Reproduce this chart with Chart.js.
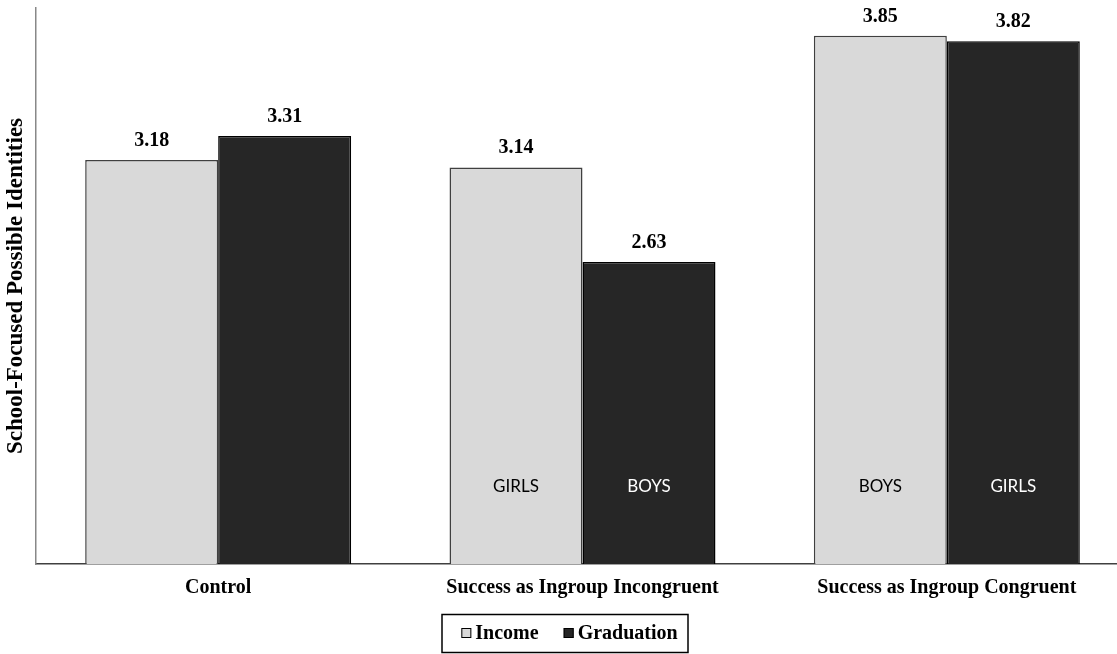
<!DOCTYPE html>
<html>
<head>
<meta charset="utf-8">
<script src="https://cdn.jsdelivr.net/npm/chart.js@4.4.1/dist/chart.umd.min.js"></script>
<style>
  html, body { margin: 0; padding: 0; background: #fff; overflow: hidden; }
  #wrap { width: 1130px; height: 654px; }
</style>
</head>
<body>
<div id="wrap"><canvas id="chart" width="1130" height="654"></canvas></div>
<script>
// Conditions on the x axis
const categories = ['Control', 'Success as Ingroup Incongruent', 'Success as Ingroup Congruent'];

// Mean school-focused possible identities per condition
const incomeValues = [3.18, 3.14, 3.85];
const graduationValues = [3.31, 2.63, 3.82];

// Group labels written inside the bars
const incomeInner = ['', 'GIRLS', 'BOYS'];
const graduationInner = ['', 'BOYS', 'GIRLS'];

const seriesNames = ['Income', 'Graduation'];
const yTitle = 'School-Focused Possible Identities';

const SERIF = '"Liberation Serif", "Times New Roman", serif';
const SERIF_BOLD = 'bold 20px ' + SERIF;

// Value labels above each bar and group labels inside the bars
const barTextPlugin = {
  id: 'barText',
  afterDatasetsDraw(chart) {
    const ctx = chart.ctx;
    const inner = [incomeInner, graduationInner];
    const innerColors = ['#000000', '#ffffff'];
    const floor = chart.chartArea.bottom;
    ctx.save();
    chart.data.datasets.forEach((ds, di) => {
      const meta = chart.getDatasetMeta(di);
      meta.data.forEach((bar, i) => {
        ctx.font = SERIF_BOLD;
        ctx.fillStyle = '#000';
        ctx.textAlign = 'center';
        ctx.textBaseline = 'alphabetic';
        ctx.fillText(ds.data[i].toFixed(2), bar.x, bar.y - 14);
        const txt = inner[di][i];
        if (txt) {
          ctx.font = '17px Lato, "Open Sans", sans-serif';
          ctx.fillStyle = innerColors[di];
          ctx.textBaseline = 'middle';
          ctx.fillText(txt, bar.x, floor - 77);
        }
      });
    });
    ctx.restore();
  }
};

// Boxed legend centred under the chart
const boxedLegendPlugin = {
  id: 'boxedLegend',
  afterDraw(chart) {
    const ctx = chart.ctx;
    const cx = chart.width / 2;
    const cy = 633;
    ctx.save();
    ctx.font = SERIF_BOLD;
    const sq = 10, gapText = 4, gapItem = 25;
    const widths = chart.data.datasets.map(ds => ctx.measureText(ds.label).width);
    let total = 0;
    widths.forEach((w, i) => { total += sq + gapText + w + (i < widths.length - 1 ? gapItem : 0); });
    let x = cx + 4.5 - total / 2;
    chart.data.datasets.forEach((ds, i) => {
      ctx.fillStyle = ds.backgroundColor;
      ctx.fillRect(x, cy - sq / 2, sq, sq);
      ctx.lineWidth = 1;
      ctx.strokeStyle = '#000';
      ctx.strokeRect(x + 0.5, cy - sq / 2 + 0.5, sq - 1, sq - 1);
      x += sq + gapText;
      ctx.fillStyle = '#000';
      ctx.textAlign = 'left';
      ctx.textBaseline = 'middle';
      ctx.fillText(ds.label, x, cy + 1);
      x += widths[i] + gapItem;
    });
    // frame
    const left = cx - 123, right = cx + 123;
    ctx.lineWidth = 1.5;
    ctx.strokeStyle = '#000';
    ctx.strokeRect(left, 614.5, right - left, 38);
    ctx.restore();
  }
};

new Chart(document.getElementById('chart'), {
  type: 'bar',
  data: {
    labels: categories,
    datasets: [
      {
        label: seriesNames[0],
        data: incomeValues,
        backgroundColor: '#d9d9d9',
        borderColor: '#404040',
        borderWidth: 1.5,
        categoryPercentage: 0.73,
        barPercentage: 1.0
      },
      {
        label: seriesNames[1],
        data: graduationValues,
        backgroundColor: '#262626',
        borderColor: '#000000',
        borderWidth: 1.5,
        categoryPercentage: 0.73,
        barPercentage: 1.0
      }
    ]
  },
  options: {
    responsive: false,
    animation: false,
    layout: { padding: { top: 8, right: 1, bottom: 42, left: 0 } },
    plugins: {
      legend: { display: false },
      tooltip: { enabled: false },
      title: { display: false }
    },
    scales: {
      x: {
        grid: { display: false, drawTicks: false },
        border: { display: true, color: '#404040', width: 1.5 },
        ticks: {
          color: '#000',
          padding: 12,
          maxRotation: 0,
          autoSkip: false,
          font: { family: SERIF, size: 20, weight: 'bold' }
        }
      },
      y: {
        min: 1,
        max: 4,
        grid: { display: false, drawTicks: false },
        border: { display: true, color: '#888888', width: 1.5 },
        ticks: { display: false },
        title: {
          display: true,
          text: yTitle,
          color: '#000',
          padding: { top: 2, bottom: 6.4 },
          font: { family: SERIF, size: 23, weight: 'bold' }
        }
      }
    }
  },
  plugins: [barTextPlugin, boxedLegendPlugin]
});
</script>
</body>
</html>
